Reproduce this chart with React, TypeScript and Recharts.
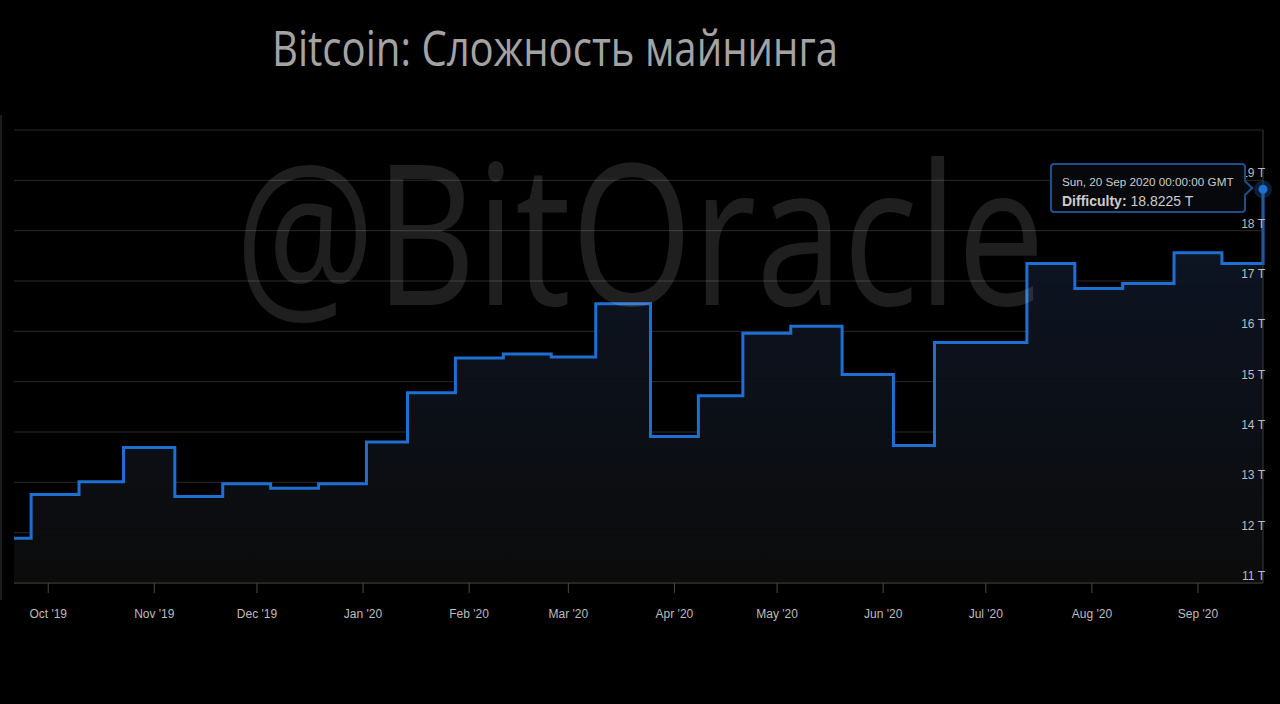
import React from 'react';
import { ComposedChart, Area, XAxis, YAxis, CartesianGrid, Tooltip } from 'recharts';

// difficulty adjustments (UTC dates) and the value in T after each one
const adjustmentDates = [
  '2019-09-21', '2019-09-26', '2019-10-10', '2019-10-23', '2019-11-07', '2019-11-21',
  '2019-12-05', '2019-12-19', '2020-01-02', '2020-01-14', '2020-01-28', '2020-02-11',
  '2020-02-25', '2020-03-09', '2020-03-25', '2020-04-08', '2020-04-21', '2020-05-05',
  '2020-05-20', '2020-06-04', '2020-06-16', '2020-07-13', '2020-07-27', '2020-08-10',
  '2020-08-25', '2020-09-08', '2020-09-20',
];
const difficultyT = [
  11.89, 12.76, 13.01, 13.69, 12.72, 12.97,
  12.88, 12.97, 13.8, 14.78, 15.47, 15.55,
  15.49, 16.55, 13.91, 14.72, 15.96, 16.1,
  15.14, 13.73, 15.78, 17.35, 16.85, 16.95,
  17.56, 17.35, 18.8225,
];
const monthTicks = [
  '2019-10-01', '2019-11-01', '2019-12-01', '2020-01-01', '2020-02-01', '2020-03-01',
  '2020-04-01', '2020-05-01', '2020-06-01', '2020-07-01', '2020-08-01', '2020-09-01',
];
const yTicks = [11, 12, 13, 14, 15, 16, 17, 18, 19, 20];
const rangeStart = '2019-09-21';
const rangeEnd = '2020-09-20';

const MONTHS = ['Jan', 'Feb', 'Mar', 'Apr', 'May', 'Jun', 'Jul', 'Aug', 'Sep', 'Oct', 'Nov', 'Dec'];
const FONT = '"Liberation Sans", Arial, sans-serif';

const toUTC = (s: string) => {
  const [y, m, d] = s.split('-').map(Number);
  return Date.UTC(y, m - 1, d);
};

const data = adjustmentDates.map((d, i) => ({ t: toUTC(d), difficulty: difficultyT[i] }));

const monthLabel = (t: number) => {
  const d = new Date(t);
  return `${MONTHS[d.getUTCMonth()]} '${String(d.getUTCFullYear()).slice(2)}`;
};

const YTick = ({ x, y, payload }: any) => {
  if (payload.value === 20) return null;
  return (
    <text x={x + 2} y={y - 3} textAnchor="end" fill="#bdbdbd" fontSize={12} fontFamily={FONT}>
      {payload.value} T
    </text>
  );
};

const DifficultyTooltip = ({ active, payload }: any) => {
  if (!active || !payload || !payload.length) return null;
  const p = payload[0].payload;
  return (
    <div
      style={{
        position: 'relative',
        boxSizing: 'border-box',
        width: 196,
        height: 50,
        background: 'rgba(6,8,12,0.94)',
        border: '2px solid #1d4f8a',
        borderRadius: 4,
        padding: '10px 10px 0 10px',
        fontFamily: FONT,
        color: '#cccccc',
      }}
    >
      <div style={{ fontSize: 11.7, lineHeight: '14px', whiteSpace: 'nowrap' }}>{new Date(p.t).toUTCString()}</div>
      <div style={{ fontSize: 14, lineHeight: '16px', marginTop: 4, whiteSpace: 'nowrap' }}>
        <b>Difficulty:</b> {p.difficulty} T
      </div>
      <div
        style={{
          position: 'absolute',
          right: -7,
          top: 17,
          width: 10,
          height: 10,
          background: 'rgba(6,8,12,0.94)',
          borderTop: '2px solid #1d4f8a',
          borderRight: '2px solid #1d4f8a',
          transform: 'rotate(45deg)',
        }}
      />
    </div>
  );
};

const ActiveDot = ({ cx, cy }: any) => (
  <g>
    <circle cx={cx} cy={cy} r={9} fill="rgba(40,100,180,0.3)" />
    <circle cx={cx} cy={cy} r={4.5} fill="#1e6fd2" />
  </g>
);

const App: React.FC = () => {
  return (
    <div style={{ position: 'absolute', left: 0, top: 0, width: 1280, height: 704, background: '#000', overflow: 'hidden' }}>
      <svg width={1280} height={90} style={{ position: 'absolute', left: 0, top: 0 }}>
        <text x={272} y={66} fill="#a3a3a3" fontSize={50} fontFamily='"Open Sans", sans-serif' textLength={566} lengthAdjust="spacingAndGlyphs">
          Bitcoin: Сложность майнинга
        </text>
      </svg>
      {/* faint frame edge on the left */}
      <div style={{ position: 'absolute', left: 0, top: 115, width: 2, height: 485, background: '#1c1c1c' }} />

      <div style={{ position: 'absolute', left: 0, top: 0 }}>
        <ComposedChart width={1280} height={704} data={data} margin={{ top: 130, right: 17, bottom: 81, left: 14 }}>
          <defs>
            <linearGradient id="diffFill" x1="0" y1="0" x2="0" y2="1">
              <stop offset="0%" stopColor="#0d1628" stopOpacity={0.95} />
              <stop offset="100%" stopColor="#0c0c0c" stopOpacity={0.95} />
            </linearGradient>
          </defs>
          <CartesianGrid vertical={false} stroke="#2a2a2a" />
          <XAxis
            dataKey="t"
            type="number"
            scale="time"
            domain={[toUTC(rangeStart), toUTC(rangeEnd)]}
            ticks={monthTicks.map(toUTC)}
            tickFormatter={monthLabel}
            height={40}
            tickSize={10}
            tickMargin={16}
            axisLine={{ stroke: '#3a3a32' }}
            tickLine={{ stroke: '#4a4a44' }}
            tick={{ fill: '#bdbdbd', fontSize: 12, fontFamily: FONT }}
          />
          <YAxis
            orientation="right"
            mirror
            domain={[11, 20]}
            ticks={yTicks}
            axisLine={false}
            tickLine={false}
            tickSize={0}
            tickMargin={0}
            tick={<YTick />}
          />
          <Tooltip
            active
            defaultIndex={data.length - 1}
            position={{ x: 1050, y: 163 }}
            content={<DifficultyTooltip />}
            cursor={{ stroke: '#3a3a3a', strokeWidth: 1 }}
            wrapperStyle={{ outline: 'none' }}
            isAnimationActive={false}
          />
          <Area
            type="stepAfter"
            dataKey="difficulty"
            stroke="#1e6fd2"
            strokeWidth={3}
            fill="url(#diffFill)"
            fillOpacity={1}
            dot={false}
            activeDot={<ActiveDot />}
            isAnimationActive={false}
          />
        </ComposedChart>
      </div>

      <svg width={1280} height={704} style={{ position: 'absolute', left: 0, top: 0, pointerEvents: 'none' }}>
        <text x={235} y={305} fill="rgba(255,255,255,0.12)" fontSize={196} fontFamily='"Open Sans", sans-serif' textLength={810} lengthAdjust="spacingAndGlyphs">
          @BitOracle
        </text>
      </svg>
    </div>
  );
};

export default App;
